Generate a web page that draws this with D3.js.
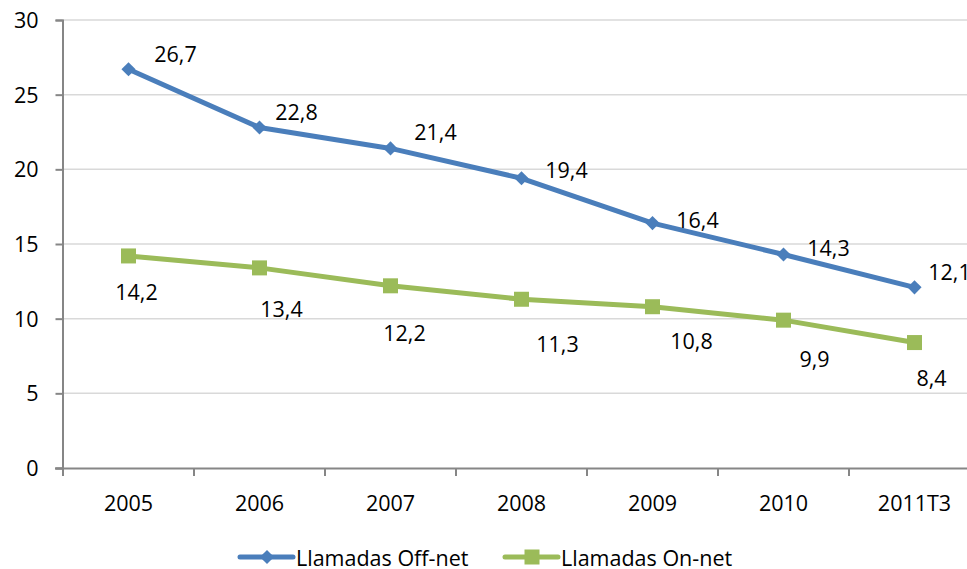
<!DOCTYPE html>
<html><head><meta charset="utf-8">
<script src="https://cdn.jsdelivr.net/npm/d3@7"></script>
<style>body{margin:0;background:#fff}svg{display:block}text{font-family:"Open Sans",sans-serif;fill:#000}</style>
</head><body><svg id="c" width="967" height="569"></svg>
<script>
const categories = ["2005","2006","2007","2008","2009","2010","2011T3"];
const offNet = [26.7,22.8,21.4,19.4,16.4,14.3,12.1];
const onNet = [14.2,13.4,12.2,11.3,10.8,9.9,8.4];
const yTicks = [0,5,10,15,20,25,30];
const seriesNames = ["Llamadas Off-net","Llamadas On-net"];
// label offsets relative to the point (layout only)
const offLabelDx = [47,37,45,45,45,45,35];
const offLabelDy = [-15,-15,-16,-8,-3,-6,-15];
const onLabelDx = [8,22,14,36,39,31,17];
const onLabelDy = [37,42,48,45,35,39,36];

const FS = 21.5;
const svg = d3.select("#c");
const fmt = v => v.toFixed(1).replace(".", ",");
const x = d3.scaleBand().domain(categories).range([63, 980]);
const y = d3.scaleLinear().domain([0,30]).range([468,20]);

// grid
svg.append("g").selectAll("line").data(yTicks.filter(t=>t>0)).join("line")
  .attr("x1",62).attr("x2",967).attr("y1",d=>y(d)).attr("y2",d=>y(d))
  .attr("stroke","#d9d9d9").attr("stroke-width",1.5);

// y axis
const ya = svg.append("g").attr("transform","translate(62.5,0)")
  .call(d3.axisLeft(y).tickValues(yTicks).tickSize(7).tickPadding(17).tickFormat(d3.format("d")));
ya.select(".domain").attr("stroke","#868686").attr("stroke-width",2);
ya.selectAll(".tick line").attr("stroke","#868686").attr("stroke-width",2);
ya.selectAll("text").attr("font-size",FS).attr("font-family","Open Sans").attr("fill","#000").attr("dy","0.35em");

// x axis
svg.append("line").attr("x1",55).attr("x2",967).attr("y1",468.5).attr("y2",468.5).attr("stroke","#868686").attr("stroke-width",2);
const bounds = categories.map(c=>x(c)).concat([x.range()[1]]);
svg.append("g").selectAll("line").data(bounds).join("line")
  .attr("x1",d=>d).attr("x2",d=>d).attr("y1",468).attr("y2",476)
  .attr("stroke","#868686").attr("stroke-width",2);
svg.append("g").selectAll("text").data(categories).join("text")
  .attr("x",d=>x(d)+x.bandwidth()/2).attr("y",503).attr("dy","0.35em").attr("text-anchor","middle")
  .attr("font-size",FS).text(d=>d);

const cx = d => x(d)+x.bandwidth()/2;
const line = d3.line().x((d,i)=>cx(categories[i])).y(d=>y(d));
const blue = "#4a7ebb", green = "#9bbb59";

svg.append("path").datum(onNet).attr("d",line).attr("fill","none").attr("stroke",green).attr("stroke-width",5).attr("stroke-linejoin","round");
svg.append("path").datum(offNet).attr("d",line).attr("fill","none").attr("stroke",blue).attr("stroke-width",5).attr("stroke-linejoin","round");

svg.append("g").selectAll("path").data(offNet).join("path")
  .attr("transform",(d,i)=>`translate(${cx(categories[i])},${y(d)}) rotate(45)`)
  .attr("d",d3.symbol().type(d3.symbolSquare).size(100)()).attr("fill",blue);
svg.append("g").selectAll("rect").data(onNet).join("rect")
  .attr("x",(d,i)=>cx(categories[i])-7.5).attr("y",d=>y(d)-7.5).attr("width",15).attr("height",15).attr("fill",green);

// labels
svg.append("g").selectAll("text").data(offNet).join("text")
  .attr("x",(d,i)=>cx(categories[i])+offLabelDx[i]).attr("y",(d,i)=>y(d)+offLabelDy[i])
  .attr("dy","0.35em").attr("text-anchor","middle").attr("font-size",FS).text(fmt);
svg.append("g").selectAll("text").data(onNet).join("text")
  .attr("x",(d,i)=>cx(categories[i])+onLabelDx[i]).attr("y",(d,i)=>y(d)+onLabelDy[i])
  .attr("dy","0.35em").attr("text-anchor","middle").attr("font-size",FS).text(fmt);

// legend
const lg = svg.append("g");
const items = [{name:seriesNames[0],color:blue,x:240,shape:"d"},{name:seriesNames[1],color:green,x:505,shape:"s"}];
items.forEach(it=>{
  lg.append("line").attr("x1",it.x).attr("x2",it.x+53).attr("y1",557).attr("y2",557).attr("stroke",it.color).attr("stroke-width",5).attr("stroke-linecap","round");
  if(it.shape==="d") lg.append("path").attr("transform",`translate(${it.x+27},557) rotate(45)`).attr("d",d3.symbol().type(d3.symbolSquare).size(100)()).attr("fill",it.color);
  else lg.append("rect").attr("x",it.x+19.5).attr("y",549.5).attr("width",15).attr("height",15).attr("fill",it.color);
  lg.append("text").attr("x",it.x+56).attr("y",558).attr("dy","0.35em").attr("font-size",FS).text(it.name);
});
</script></body></html>
